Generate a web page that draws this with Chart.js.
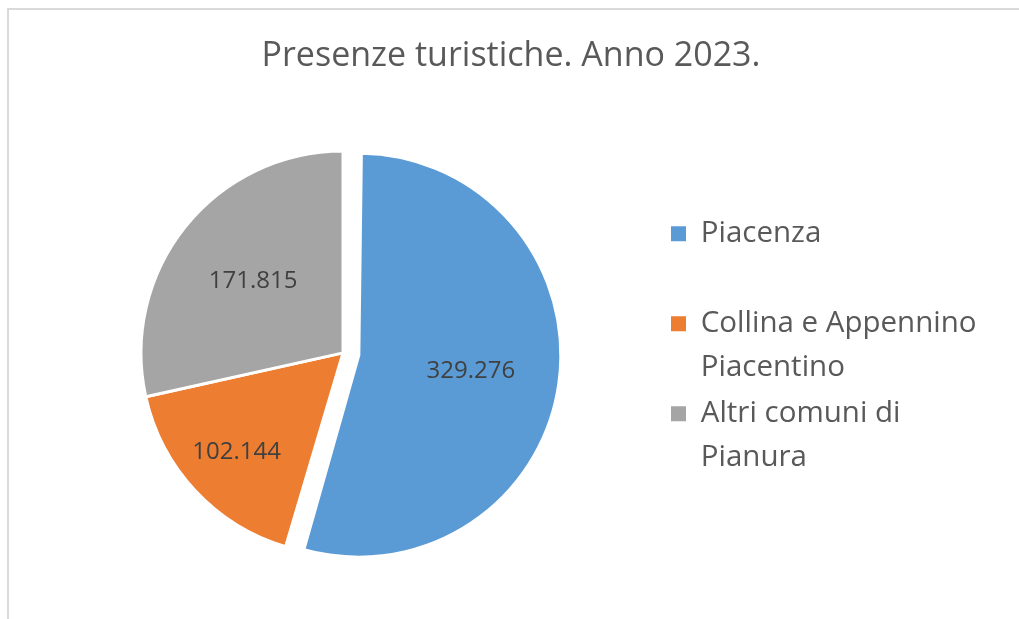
<!DOCTYPE html>
<html>
<head>
<meta charset="utf-8">
<script src="https://cdn.jsdelivr.net/npm/chart.js@4.4.1/dist/chart.umd.min.js"></script>
<style>
html, body { margin: 0; padding: 0; background: #fff; overflow: hidden; }
#cornice { position: absolute; left: 7px; top: 8px; width: 1100px; height: 700px; border: 2px solid #d9d9d9; }
#grafico { position: absolute; left: 0; top: 0; }
</style>
</head>
<body>
<div id="cornice"></div>
<canvas id="grafico" width="1019" height="619"></canvas>
<script>
const titolo = 'Presenze turistiche. Anno 2023.';
const categorie = [['Piacenza'], ['Collina e Appennino', 'Piacentino'], ['Altri comuni di', 'Pianura']];
const presenze = [329276, 102144, 171815];

// distanza delle etichette dal centro, in frazione del raggio
const raggioEtichette = [0.56, 0.72, 0.57];

function formatta(v) {
  return String(v).replace(/\B(?=(\d{3})+(?!\d))/g, '.');
}

// la fetta staccata non deve diventare piu' grande delle altre
const stessoRaggio = {
  id: 'stessoRaggio',
  afterDatasetUpdate(chart, args) {
    args.meta.data.forEach(arc => {
      const off = (arc.options.offset || 0) / 4;
      const fix = 1 - Math.sin(Math.min(Math.PI, arc.circumference));
      arc.outerRadius -= off * fix;
      arc.$raggioVisibile = arc.outerRadius + off * fix;
    });
  }
};

// etichette dei valori dentro le fette
const etichette = {
  id: 'etichette',
  afterDatasetsDraw(chart) {
    const ctx = chart.ctx;
    const meta = chart.getDatasetMeta(0);
    ctx.save();
    ctx.font = '24px "Open Sans"';
    ctx.fillStyle = '#404040';
    ctx.textAlign = 'center';
    ctx.textBaseline = 'middle';
    meta.data.forEach((arc, i) => {
      const mid = (arc.startAngle + arc.endAngle) / 2;
      // l'arco viene spostato di offset/4
      const r = arc.$raggioVisibile || arc.outerRadius;
      const d = (arc.options.offset || 0) / 4 + r * raggioEtichette[i];
      ctx.fillText(formatta(presenze[i]), arc.x + Math.cos(mid) * d, arc.y + Math.sin(mid) * d);
    });
    ctx.restore();
  }
};

// legenda piu' larga, cosi' il titolo resta centrato
const legendaLarga = {
  id: 'legendaLarga',
  beforeInit(chart) {
    const fit = chart.legend.fit;
    chart.legend.fit = function () {
      fit.call(this);
      this.width = 336;
    };
  }
};

new Chart(document.getElementById('grafico'), {
  type: 'pie',
  data: {
    labels: categorie,
    datasets: [{
      data: presenze,
      backgroundColor: ['#5B9BD5', '#ED7D31', '#A5A5A5'],
      borderColor: '#ffffff',
      borderWidth: 3,
      offset: [64, 0, 0],
      hoverOffset: 0
    }]
  },
  options: {
    responsive: false,
    animation: false,
    radius: 202,
    layout: { padding: { left: 17, right: 14, top: 0, bottom: 56 } },
    plugins: {
      title: {
        display: true,
        text: titolo,
        color: '#595959',
        font: { family: 'Open Sans', size: 34, weight: 'normal', lineHeight: 1.2 },
        padding: { top: 36, bottom: 66 }
      },
      legend: {
        position: 'right',
        align: 'center',
        fullSize: false,
        labels: {
          color: '#595959',
          font: { family: 'Open Sans', size: 29.5, lineHeight: 44 / 29.5 },
          boxWidth: 15,
          boxHeight: 15,
          padding: 2,
          generateLabels(chart) {
            const base = Chart.overrides.pie.plugins.legend.labels.generateLabels(chart);
            return base.map(l => {
              const righe = categorie[l.index].slice();
              while (righe.length < 2) righe.push('');
              return Object.assign(l, { text: righe, lineWidth: 0 });
            });
          }
        }
      },
      tooltip: { enabled: false }
    }
  },
  plugins: [stessoRaggio, etichette, legendaLarga]
});
</script>
</body>
</html>
